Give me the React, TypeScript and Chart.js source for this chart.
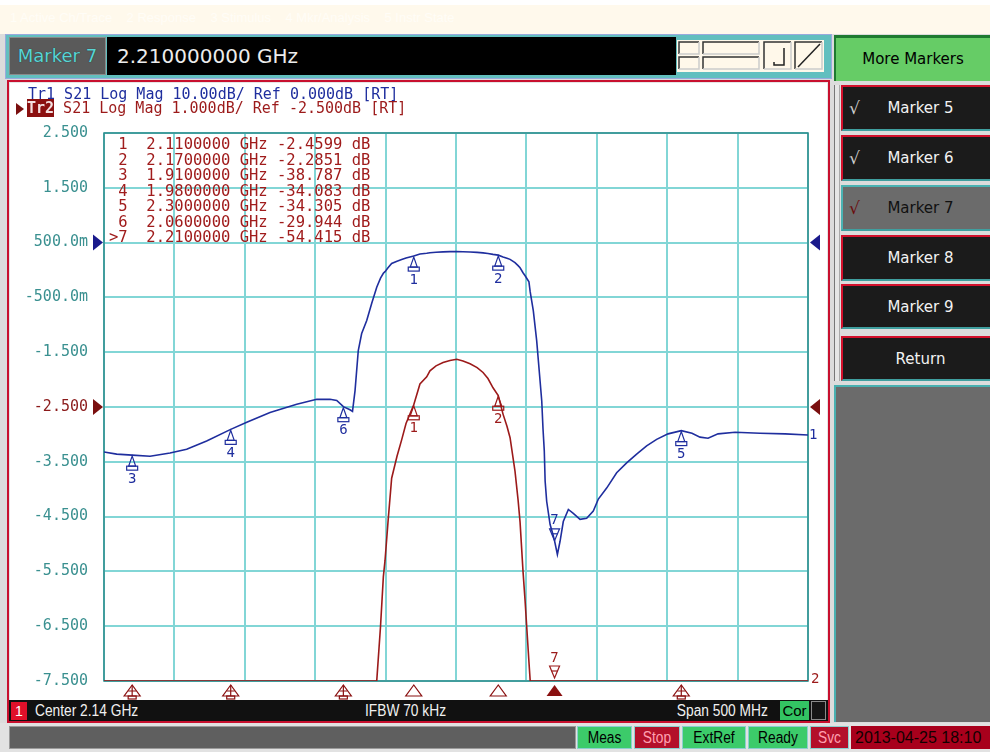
import React, { useEffect, useRef } from 'react';
import { Chart, registerables } from 'chart.js';

Chart.register(...registerables);

// ---------- data (S21 of a band-pass filter) ----------
const freqGHz = [
  1.89, 1.899, 1.91, 1.9227, 1.9369, 1.9487, 1.9629, 1.98, 1.9914, 2.0079,
  2.0269, 2.0411, 2.0505, 2.0553, 2.06, 2.0647, 2.0665, 2.0683, 2.0706, 2.073,
  2.0766, 2.0801, 2.0837, 2.0864, 2.0884, 2.0896, 2.0917, 2.0943, 2.0981, 2.1014,
  2.1045, 2.11, 2.1144, 2.1192, 2.1215, 2.1258, 2.1308, 2.1357, 2.1405, 2.145,
  2.15, 2.155, 2.1592, 2.1627, 2.1663, 2.17, 2.1734, 2.1762, 2.1784, 2.1819,
  2.1841, 2.1855, 2.1876, 2.1891, 2.1902, 2.1918, 2.1927, 2.1949, 2.1973, 2.1997,
  2.2009, 2.2018, 2.2027, 2.2033, 2.2044, 2.2068, 2.2089, 2.21, 2.212, 2.2139,
  2.2162, 2.2198, 2.2233, 2.2281, 2.2328, 2.2375, 2.2411, 2.247, 2.2541, 2.2612,
  2.2683, 2.2754, 2.2825, 2.2906, 2.3, 2.3076, 2.3133, 2.319, 2.3261, 2.3382,
  2.3559, 2.3737, 2.39,
];
const s21dB = [
  -38.2, -38.6, -38.79, -39.0, -38.4, -37.7, -36.2, -34.08, -32.8, -31.0,
  -29.5, -28.6, -28.6, -28.8, -29.94, -30.5, -30.8, -27.0, -19.7, -16.6,
  -14.2, -11.1, -8.15, -6.5, -5.6, -5.3, -4.6, -3.8, -3.4, -3.1,
  -2.8, -2.46, -2.08, -1.95, -1.84, -1.75, -1.69, -1.65, -1.63, -1.66,
  -1.71, -1.78, -1.87, -1.98, -2.15, -2.29, -2.63, -2.85, -3.06, -3.67,
  -4.2, -4.6, -5.5, -6.05, -6.5, -7.15, -9.0, -12.4, -17.9, -25.2,
  -28.9, -34.0, -38.0, -43.5, -47.2, -51.4, -53.3, -54.42, -56.9, -54.5,
  -50.9, -48.7, -49.4, -50.5, -50.3, -49.0, -46.8, -44.8, -42.0, -40.2,
  -38.6, -37.1, -35.9, -34.9, -34.31, -34.8, -35.5, -35.7, -34.9, -34.6,
  -34.8, -34.9, -35.1,
];

const markerNumbers = [1, 2, 3, 4, 5, 6, 7];
const markerFreqGHz = [2.11, 2.17, 1.91, 1.98, 2.3, 2.06, 2.21];
const markerValueDb = [-2.4599, -2.2851, -38.787, -34.083, -34.305, -29.944, -54.415];
const activeMarker = 7;

const xGridGHz = [1.89, 1.94, 1.99, 2.04, 2.09, 2.14, 2.19, 2.24, 2.29, 2.34, 2.39];
const yTickValues = [2.5, 1.5, 0.5, -0.5, -1.5, -2.5, -3.5, -4.5, -5.5, -6.5, -7.5];
const yTickLabels = ['2.500', '1.500', '500.0m', '-500.0m', '-1.500', '-2.500', '-3.500', '-4.500', '-5.500', '-6.500', '-7.500'];

// Tr1: 10 dB/div, ref 0 dB ; Tr2: 1 dB/div, ref -2.5 dB
const TR1_MIN = -80, TR1_MAX = 20, TR1_REF = 0;
const TR2_MIN = -7.5, TR2_MAX = 2.5, TR2_REF = -2.5;

const startGHz = 1.89, stopGHz = 2.39;

// ---------- styles ----------
const BLUE = '#1f2e9e';
const RED = '#9c1a1a';
const TEAL_TXT = '#3a9090';
const MONO = "'DejaVu Sans Mono', 'Liberation Mono', monospace";
const UI = "'DejaVu Sans', Verdana, sans-serif";
const NARROW = "'Liberation Sans', Arial, sans-serif";

function drawNormalMarker(ctx: any, x: number, y: number, color: string, label: string) {
  ctx.strokeStyle = color;
  ctx.fillStyle = color;
  ctx.lineWidth = 1.2;
  ctx.beginPath();
  ctx.moveTo(x, y + 1);
  ctx.lineTo(x - 3.5, y + 11);
  ctx.lineTo(x + 3.5, y + 11);
  ctx.closePath();
  ctx.stroke();
  ctx.strokeRect(x - 5.5, y + 11, 11, 4);
  ctx.font = `14px ${MONO}`;
  ctx.textAlign = 'center';
  ctx.textBaseline = 'middle';
  ctx.fillText(label, x, y + 24);
}

function drawActiveMarker(ctx: any, x: number, y: number, color: string, label: string) {
  ctx.strokeStyle = color;
  ctx.fillStyle = color;
  ctx.lineWidth = 1.2;
  ctx.beginPath();
  ctx.moveTo(x, y);
  ctx.lineTo(x - 5, y - 12);
  ctx.lineTo(x + 5, y - 12);
  ctx.closePath();
  ctx.stroke();
  ctx.beginPath();
  ctx.moveTo(x - 3, y - 7);
  ctx.lineTo(x + 3, y - 7);
  ctx.stroke();
  ctx.font = `14px ${MONO}`;
  ctx.textAlign = 'center';
  ctx.textBaseline = 'middle';
  ctx.fillText(label, x, y - 20);
}

const vnaPlugin = {
  id: 'vnaOverlay',
  beforeDatasetsDraw(chart: any) {
    const { ctx, chartArea: a } = chart;
    ctx.save();
    ctx.strokeStyle = '#2d8a8a';
    ctx.lineWidth = 1.5;
    ctx.strokeRect(a.left, a.top, a.right - a.left, a.bottom - a.top);
    ctx.restore();
  },
  afterDatasetsDraw(chart: any) {
    const { ctx, chartArea: a, scales } = chart;
    const xs = scales.x, y2 = scales.y, y1 = scales.y1;
    ctx.save();

    // reference level triangles
    const refTri = (yy: number, color: string) => {
      ctx.fillStyle = color;
      ctx.beginPath();
      ctx.moveTo(a.left - 11, yy - 8);
      ctx.lineTo(a.left - 11, yy + 8);
      ctx.lineTo(a.left - 1, yy);
      ctx.closePath();
      ctx.fill();
      ctx.beginPath();
      ctx.moveTo(a.right + 12, yy - 8);
      ctx.lineTo(a.right + 12, yy + 8);
      ctx.lineTo(a.right + 2, yy);
      ctx.closePath();
      ctx.fill();
    };
    refTri(y1.getPixelForValue(TR1_REF), '#1a1a8c');
    refTri(y2.getPixelForValue(TR2_REF), '#7a0f0f');

    // trace end labels
    const last = s21dB[s21dB.length - 1];
    ctx.font = `14px ${MONO}`;
    ctx.textAlign = 'left';
    ctx.textBaseline = 'middle';
    ctx.fillStyle = BLUE;
    ctx.fillText('1', a.right + 1, y1.getPixelForValue(last));
    ctx.fillStyle = RED;
    ctx.fillText('2', a.right + 3, y2.getPixelForValue(Math.max(last, TR2_MIN)) - 2);

    // markers
    markerNumbers.forEach((n, i) => {
      const px = xs.getPixelForValue(markerFreqGHz[i]);
      const v = markerValueDb[i];
      const isActive = n === activeMarker;
      // Tr1 (blue)
      const py1 = y1.getPixelForValue(v);
      if (isActive) drawActiveMarker(ctx, px, py1, BLUE, String(n));
      else drawNormalMarker(ctx, px, py1, BLUE, String(n));
      // Tr2 (red)
      if (v >= TR2_MIN) {
        const py2 = y2.getPixelForValue(v);
        if (isActive) drawActiveMarker(ctx, px, py2, RED, String(n));
        else drawNormalMarker(ctx, px, py2, RED, String(n));
      } else if (isActive) {
        drawActiveMarker(ctx, px, a.bottom - 3, RED, String(n));
      }
      // stimulus indicators under the grid
      const b = a.bottom;
      ctx.strokeStyle = '#8a1010';
      ctx.fillStyle = '#8a1010';
      ctx.lineWidth = 1.2;
      ctx.beginPath();
      ctx.moveTo(px, b + 4);
      ctx.lineTo(px - 8, b + 15);
      ctx.lineTo(px + 8, b + 15);
      ctx.closePath();
      if (isActive) {
        ctx.fill();
      } else if (v >= TR2_MIN) {
        ctx.stroke();
      } else {
        ctx.stroke();
        ctx.beginPath();
        ctx.moveTo(px, b + 4);
        ctx.lineTo(px, b + 15);
        ctx.moveTo(px - 4, b + 10);
        ctx.lineTo(px + 4, b + 10);
        ctx.stroke();
        ctx.strokeRect(px - 4, b + 15, 8, 3);
      }
    });
    ctx.restore();
  },
};

const CANVAS_W = 814;
const CANVAS_H = 624;

function VnaChart() {
  const ref = useRef<HTMLCanvasElement | null>(null);
  useEffect(() => {
    document.body.style.margin = '0';
    const canvas = ref.current;
    if (!canvas) return;
    const tr1 = freqGHz.map((f, i) => ({ x: f, y: s21dB[i] }));
    const tr2 = freqGHz.map((f, i) => ({ x: f, y: Math.max(s21dB[i], TR2_MIN) }));
    const chart = new Chart(canvas, {
      type: 'line',
      data: {
        datasets: [
          {
            label: 'Tr1 S21',
            data: tr1,
            yAxisID: 'y1',
            borderColor: BLUE,
            borderWidth: 1.6,
            pointRadius: 0,
            tension: 0,
          },
          {
            label: 'Tr2 S21',
            data: tr2,
            yAxisID: 'y',
            borderColor: RED,
            borderWidth: 1.6,
            pointRadius: 0,
            tension: 0,
          },
        ],
      },
      options: {
        responsive: false,
        animation: false,
        events: [],
        layout: { padding: { left: 0, top: 49, right: 18, bottom: 27 } },
        plugins: { legend: { display: false }, tooltip: { enabled: false } },
        scales: {
          x: {
            type: 'linear',
            min: startGHz,
            max: stopGHz,
            afterBuildTicks: (s: any) => {
              s.ticks = xGridGHz.map((v) => ({ value: v }));
            },
            afterFit: (s: any) => {
              s.height = 0;
            },
            ticks: { display: false },
            grid: { color: '#82d6d6', lineWidth: 2, drawTicks: false },
            border: { display: false },
          },
          y: {
            type: 'linear',
            position: 'left',
            min: TR2_MIN,
            max: TR2_MAX,
            afterBuildTicks: (s: any) => {
              s.ticks = yTickValues.map((v) => ({ value: v }));
            },
            afterFit: (s: any) => {
              s.width = 92;
            },
            ticks: {
              callback: (v: any) => {
                const k = yTickValues.indexOf(Number(v));
                return k >= 0 ? yTickLabels[k] : '';
              },
              color: (c: any) => (c.tick && c.tick.value === TR2_REF ? '#8b1a1a' : TEAL_TXT),
              font: { family: MONO, size: 15 },
              padding: 16,
            },
            grid: { color: '#82d6d6', lineWidth: 2, drawTicks: false },
            border: { display: false },
          },
          y1: {
            type: 'linear',
            display: false,
            min: TR1_MIN,
            max: TR1_MAX,
          },
        },
      } as any,
      plugins: [vnaPlugin as any],
    });
    return () => chart.destroy();
  }, []);
  return (
    <canvas
      ref={ref}
      width={CANVAS_W}
      height={CANVAS_H}
      style={{ position: 'absolute', left: 12, top: 84, width: CANVAS_W, height: CANVAS_H }}
    />
  );
}

const abs = (l: number, t: number, w: number, h: number, extra: any = {}) => ({
  position: 'absolute' as const,
  left: l,
  top: t,
  width: w,
  height: h,
  boxSizing: 'border-box' as const,
  ...extra,
});

const softKeys = [
  { label: 'Marker 5', top: 85, h: 46, check: true, sel: false },
  { label: 'Marker 6', top: 135, h: 46, check: true, sel: false },
  { label: 'Marker 7', top: 185, h: 46, check: true, sel: true },
  { label: 'Marker 8', top: 235, h: 46, check: false, sel: false },
  { label: 'Marker 9', top: 284, h: 45, check: false, sel: false },
  { label: 'Return', top: 336, h: 45, check: false, sel: false },
];

const narrowText = (txt: string, left: number, top: number, color: string, size: number, origin = 'left') => (
  <div
    style={{
      position: 'absolute',
      left,
      top,
      color,
      fontSize: size,
      lineHeight: '20px',
      fontFamily: NARROW,
      whiteSpace: 'nowrap',
      transform: 'scaleX(0.86)',
      transformOrigin: origin,
    }}
  >
    {txt}
  </div>
);

export default function App() {
  const tableRows = markerNumbers.map((n, i) => {
    const mark = n === activeMarker ? '>' : ' ';
    return `${mark}${n}  ${markerFreqGHz[i].toFixed(7)} GHz ${markerValueDb[i].toPrecision(5)} dB`;
  });
  return (
    <div style={{ position: 'relative', width: 990, height: 752, overflow: 'hidden', background: '#dcdcdc', fontFamily: UI }}>
      {/* top menu strip */}
      <div style={abs(0, 0, 990, 34, { background: 'linear-gradient(#ffffff 0px, #ffffff 5px, #fff9ec 5px)' })}>
        <div style={{ position: 'absolute', left: 10, top: 10, fontSize: 13, color: '#fffdf7', whiteSpace: 'pre', fontFamily: NARROW }}>
          {'1 Active Ch/Trace    2 Response    3 Stimulus    4 Mkr/Analysis    5 Instr State'}
        </div>
      </div>

      {/* marker entry bar */}
      <div style={abs(5, 34, 827, 45, { background: '#62bfbf', border: '1px solid #9ad' })} />
      <div style={abs(9, 37, 97, 38, { background: '#5a5a5a', border: '1px solid #8a8a8a', color: '#5ad4d4', fontSize: 18, lineHeight: '36px', textAlign: 'center', textShadow: '0 0 1px #103030' })}>
        Marker 7
      </div>
      <div style={abs(107, 37, 569, 38, { background: '#000', color: '#ececec', fontSize: 20, lineHeight: '38px', paddingLeft: 10 })}>
        2.210000000 GHz
      </div>
      <div style={abs(677, 40, 147, 32, { background: '#fff8ea' })}>
        <svg width={147} height={32} style={{ position: 'absolute', left: 0, top: 0 }}>
          <g fill="none" strokeWidth={1.5}>
            <polyline points="2,14 2,2 22,2" stroke="#333" />
            <polyline points="22,2 22,14 2,14" stroke="#ccc" />
            <polyline points="2,29 2,17 22,17" stroke="#333" />
            <polyline points="22,17 22,29 2,29" stroke="#ccc" />
            <polyline points="26,14 26,2 82,2" stroke="#333" />
            <polyline points="82,2 82,14 26,14" stroke="#ccc" />
            <polyline points="26,29 26,17 82,17" stroke="#333" />
            <polyline points="82,17 82,29 26,29" stroke="#ccc" />
            <polyline points="87,29 87,2 114,2" stroke="#333" />
            <polyline points="114,2 114,29 87,29" stroke="#ccc" />
            <polyline points="97,22 97,25 107,25 107,8" stroke="#222" />
            <polyline points="118,29 118,2 145,2" stroke="#333" />
            <polyline points="145,2 145,29 118,29" stroke="#ccc" />
            <line x1={121} y1={27} x2={143} y2={4} stroke="#222" />
          </g>
        </svg>
      </div>

      {/* right softkey panel */}
      <div style={abs(834, 35, 156, 46, { background: '#66cc66', borderTop: '3px solid #1e7a30', borderLeft: '2px solid #1e7a30', fontSize: 15, lineHeight: '42px', textAlign: 'center', color: '#000' })}>
        More Markers
      </div>
      <div style={abs(834, 85, 6, 296, { background: '#e6e6e6', borderLeft: '1px solid #777', borderRight: '1px solid #aaa' })} />
      {softKeys.map((k) => (
        <div
          key={k.label}
          style={abs(841, k.top, 149, k.h, {
            background: k.sel ? '#6b6b6b' : '#1b1b1b',
            borderTop: k.sel ? '2px solid #4ab3b3' : '2px solid #d4102c',
            borderLeft: k.sel ? '2px solid #4ab3b3' : '2px solid #d4102c',
            borderBottom: '2px solid #3f9f9f',
            color: k.sel ? '#111' : '#f2f2f2',
            fontSize: 15,
            lineHeight: '42px',
            textAlign: 'center',
            paddingLeft: 8,
          })}
        >
          {k.check && (
            <span style={{ position: 'absolute', left: 6, top: 0, fontSize: 17, color: k.sel ? '#6a0c0c' : '#cfcfcf' }}>√</span>
          )}
          {k.label}
        </div>
      ))}
      <div style={abs(834, 385, 156, 337, { background: '#6b6b6b', borderTop: '2px solid #48b0b0', borderLeft: '2px solid #48b0b0' })} />

      {/* chart panel */}
      <div style={abs(7, 80, 823, 643, { background: '#fff', border: '2px solid #c8102e', boxShadow: 'inset 0 0 0 1px #e5e5e5' })} />
      <VnaChart />

      {/* trace header */}
      <div style={{ position: 'absolute', left: 28, top: 87, fontFamily: MONO, fontSize: 15, lineHeight: '15px', color: BLUE, whiteSpace: 'pre' }}>
        Tr1 S21 Log Mag 10.00dB/ Ref 0.000dB [RT]
      </div>
      <div style={{ position: 'absolute', left: 16, top: 103, width: 0, height: 0, borderTop: '6px solid transparent', borderBottom: '6px solid transparent', borderLeft: '8px solid #7a0f0f' }} />
      <div style={{ position: 'absolute', left: 27, top: 101, fontFamily: MONO, fontSize: 15, lineHeight: '15px', color: RED, whiteSpace: 'pre' }}>
        <span style={{ background: '#8b1010', color: '#f3e0e0', fontWeight: 'bold' }}>Tr2</span>
        {' S21 Log Mag 1.000dB/ Ref -2.500dB [RT]'}
      </div>

      {/* marker table */}
      <div style={{ position: 'absolute', left: 109, top: 137, fontFamily: MONO, fontSize: 15.5, lineHeight: '15.5px', color: '#a01c1c', whiteSpace: 'pre' }}>
        {tableRows.map((r) => (
          <div key={r}>{r}</div>
        ))}
      </div>

      {/* bottom info bar */}
      <div style={abs(9, 700, 819, 21, { background: '#111' })} />
      <div style={abs(11, 702, 16, 18, { background: '#e0102a', color: '#fff', fontSize: 14, lineHeight: '18px', textAlign: 'center', fontFamily: NARROW })}>1</div>
      {narrowText('Center 2.14 GHz', 35, 701, '#f0f0f0', 16)}
      {narrowText('IFBW 70 kHz', 365, 701, '#f0f0f0', 16)}
      <div style={{ position: 'absolute', right: 990 - 768, top: 701, color: '#f0f0f0', fontSize: 16, lineHeight: '20px', fontFamily: NARROW, whiteSpace: 'nowrap', transform: 'scaleX(0.86)', transformOrigin: 'right' }}>
        Span 500 MHz
      </div>
      <div style={abs(780, 701, 29, 19, { background: '#33c463', color: '#000', fontSize: 15, lineHeight: '19px', textAlign: 'center', fontFamily: NARROW })}>Cor</div>
      <div style={abs(811, 701, 15, 19, { background: '#151515', border: '1px solid #8a8a8a' })} />

      {/* status bar */}
      <div style={abs(0, 723, 990, 29, { background: '#e2e2e2' })} />
      <div style={abs(9, 726, 567, 23, { background: '#5f5f5f', border: '1px solid #9a9a9a' })} />
      {[
        { t: 'Meas', l: 577, w: 55, bg: '#3ccb6a', c: '#000' },
        { t: 'Stop', l: 634, w: 46, bg: '#b3102a', c: '#ffa0b0' },
        { t: 'ExtRef', l: 682, w: 64, bg: '#3ccb6a', c: '#000' },
        { t: 'Ready', l: 748, w: 60, bg: '#3ccb6a', c: '#000' },
        { t: 'Svc', l: 810, w: 39, bg: '#b3102a', c: '#ffa0b0' },
      ].map((s) => (
        <div key={s.t} style={abs(s.l, 726, s.w, 23, { background: s.bg, border: '1px solid #8ccfcf', overflow: 'hidden' })}>
          <div style={{ color: s.c, fontSize: 16, lineHeight: '21px', textAlign: 'center', fontFamily: NARROW, transform: 'scaleX(0.86)', whiteSpace: 'nowrap' }}>{s.t}</div>
        </div>
      ))}
      <div style={abs(851, 726, 150, 23, { background: '#a8001c', paddingLeft: 4, whiteSpace: 'nowrap' })}>
        <div style={{ color: '#120000', fontSize: 16, lineHeight: '23px', fontFamily: NARROW }}>2013-04-25 18:10</div>
      </div>
    </div>
  );
}
